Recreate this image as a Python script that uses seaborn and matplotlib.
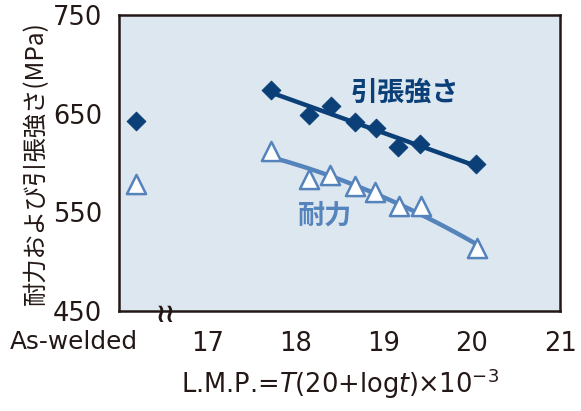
import matplotlib
matplotlib.use("Agg")
import matplotlib.pyplot as plt
import matplotlib.transforms as mtransforms
import numpy as np
import seaborn as sns

# data
as_welded_x = 16.19
as_welded_ts = 643
as_welded_ps = 579

lmp = [17.72, 18.15, 18.40, 18.68, 18.91, 19.16, 19.41, 20.05]
tensile = [674, 649, 658, 642, 636, 616, 619, 599]
lmp_ps = [17.72, 18.15, 18.39, 18.68, 18.90, 19.17, 19.42, 20.06]
proof = [612, 584, 588, 577, 571, 556, 556, 514]

xticks = [17, 18, 19, 20, 21]
yticks = [450, 550, 650, 750]

navy = "#0b3f78"
light = "#5583bb"
ink = "#231815"

sns.set_theme(style="white")
plt.rcParams['font.family'] = ['DejaVu Sans', 'Noto Sans CJK JP']

fig = plt.figure(figsize=(5.81, 4.11), dpi=100)
ax = fig.add_axes([0.205, 0.243, 0.759, 0.7205])
ax.set_facecolor("#dde7ef")

# fitted trend lines
fx = np.linspace(lmp[0], lmp[-1], 50)
ts_fit = np.polyval(np.polyfit(lmp, tensile, 1), fx)
ps_fit = np.polyval(np.polyfit(lmp_ps, proof, 2), fx)
sns.lineplot(x=fx, y=ts_fit, color=navy, lw=3.2, ax=ax)
sns.lineplot(x=fx, y=ps_fit, color=light, lw=3.2, ax=ax)

# points
sns.scatterplot(x=lmp + [as_welded_x], y=tensile + [as_welded_ts], marker="D",
                s=90, color=navy, edgecolor=navy, ax=ax, zorder=5)
sns.scatterplot(x=lmp_ps + [as_welded_x], y=proof + [as_welded_ps], marker="^",
                s=190, facecolor="white", edgecolor=light, linewidth=1.8, ax=ax, zorder=5)

ax.set_xlim(16, 21)
ax.set_ylim(450, 750)
ax.set_xticks(xticks)
ax.set_yticks(yticks)
ax.tick_params(direction="in", length=6, width=1.6, colors=ink, labelsize=18.5)
ax.tick_params(axis="x", pad=14)
ax.tick_params(axis="y", pad=12)
for sp in ax.spines.values():
    sp.set_linewidth(1.8)
    sp.set_color(ink)

# series labels
ax.text(19.24, 671, "引張強さ", color=navy, fontsize=19.5, fontweight="bold",
        family=["Noto Sans CJK JP"], ha="center", va="center")
ax.text(18.33, 547, "耐力", color=light, fontsize=19.5, fontweight="bold",
        family=["Noto Sans CJK JP"], ha="center", va="center")

# As-welded label and axis break
trans = mtransforms.blended_transform_factory(ax.transData, ax.transAxes)
ax.text(as_welded_x + 0.02, -0.104, "As-welded", transform=trans, ha="right",
        va="center", fontsize=17.8, color=ink)
ax.text(16.53, -0.012, "≀≀", transform=trans, ha="center", va="center",
        fontsize=19, color=ink, fontweight="bold")

ax.set_xlabel(r"L.M.P.=$\mathit{T}$(20+log$\mathit{t}$)×10$^{-3}$",
              fontsize=18.5, color=ink, labelpad=7)
ax.set_ylabel("耐力および引張強さ(MPa)", fontsize=17.5, color=ink,
              family=["Noto Sans CJK JP"], labelpad=3)

plt.savefig("out.png", dpi=100)
